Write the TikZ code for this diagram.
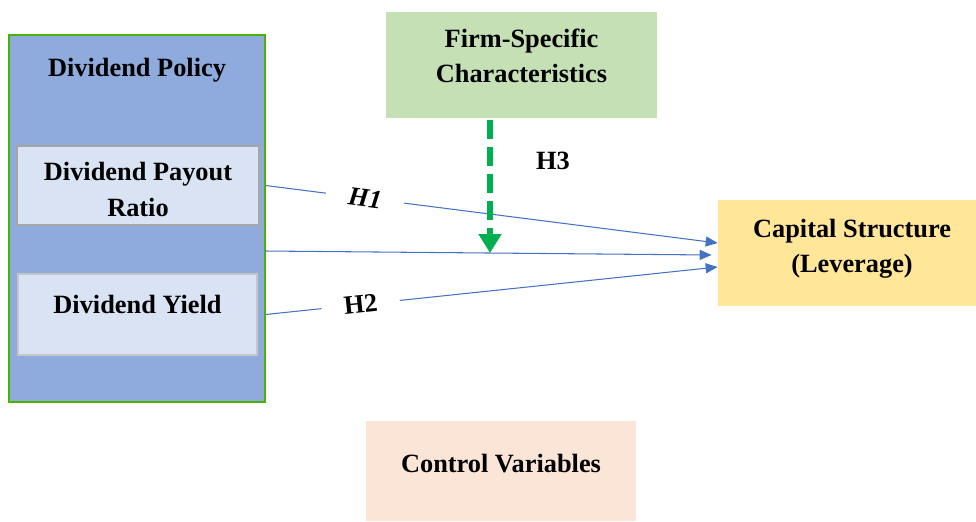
\documentclass[tikz,border=0pt]{standalone}
\usepackage{fontspec}
\setmainfont{Liberation Serif}
\usetikzlibrary{arrows.meta}
\definecolor{policyblue}{HTML}{8FAADC}
\definecolor{itemblue}{HTML}{DAE3F3}
\definecolor{firmgreen}{HTML}{C5E0B4}
\definecolor{capyellow}{HTML}{FFE699}
\definecolor{ctrlpeach}{HTML}{FBE5D6}
\definecolor{linkblue}{HTML}{4472C4}
\definecolor{modgreen}{HTML}{00B050}
\tikzset{
  box/.style={rectangle, inner sep=0pt, align=center,
    font=\fontsize{15}{20}\selectfont\bfseries},
  link/.style={linkblue, line width=0.6pt,
    -{Triangle[length=0.24cm,width=0.2cm]}},
  hyp/.style={fill=white, text=black, inner xsep=0.45cm, inner ysep=1pt, sloped,
    font=\fontsize{15}{20}\selectfont\bfseries}
}
\begin{document}
\begin{tikzpicture}[x=0.02cm, y=-0.02cm]
  \useasboundingbox (0,0) rectangle (976,521);
  %blocchi
  \node[box, fill=policyblue, draw=green!50!black!60!lime, line width=0.8pt,
    minimum width=5.12cm, minimum height=7.34cm] (policy) at (137,218.5) {};
  \node[box] (title) at (137,70) {Dividend Policy};
  \node[box, fill=itemblue, draw=gray!70, line width=1.2pt,
    minimum width=4.84cm, minimum height=1.58cm] (payout) at (138,185.5) {};
  \node[box] at (138,189.5) {Dividend Payout\\Ratio};
  \node[box, fill=itemblue, draw=gray!45, line width=1.2pt,
    minimum width=4.78cm, minimum height=1.62cm] (yield) at (137.5,314.5) {};
  \node[box] at (137.5,304) {Dividend Yield};
  \node[box, fill=firmgreen, minimum width=5.42cm, minimum height=2.12cm] (firm) at (521.5,65) {};
  \node[box] at (521.5,56) {Firm-Specific\\Characteristics};
  \node[box, fill=capyellow, minimum width=5.16cm, minimum height=2.12cm] (capital) at (847,253) {};
  \node[box] at (852,248.5) {Capital Structure\\(Leverage)};
  \node[box, fill=ctrlpeach, minimum width=5.4cm, minimum height=2.0cm] (control) at (501,471) {};
  \node[box] at (501,464) {Control Variables};
  %frecce
  \coordinate (mid) at (265,251);
  \coordinate (meet) at (490,253);
  \draw[link] (payout.east -| policy.east) -- node[hyp, pos=0.22] {\itshape H1} ([yshift=10*0.02cm]capital.west);
  \draw[link] (mid) -- ([xshift=-6*0.02cm, yshift=-2*0.02cm]capital.west);
  \draw[link] (yield.east -| policy.east) -- node[hyp, pos=0.21] {H2} ([yshift=-14*0.02cm]capital.west);
  \draw[modgreen, line width=3.8pt, dash pattern=on 0.38cm off 0.16cm,
    -{Triangle[length=0.38cm,width=0.44cm]}] ([yshift=-2*0.02cm]firm.south -| meet) -- (meet);
  \node[box] (h3) at (553,161) {H3};
\end{tikzpicture}
\end{document}
